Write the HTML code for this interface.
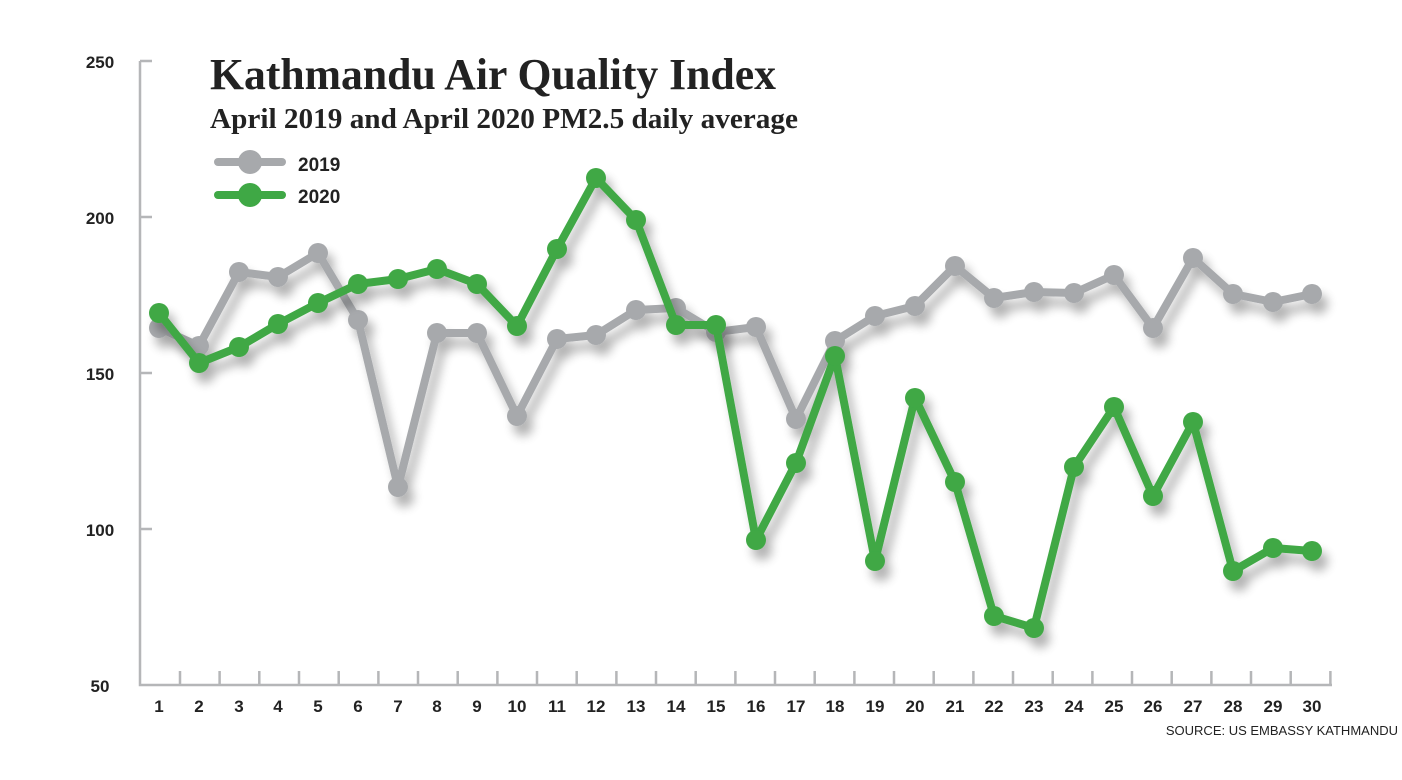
<!DOCTYPE html><html><head><style>body{margin:0;background:#fff}svg{display:block}</style></head><body>
<svg width="1402" height="780" xmlns="http://www.w3.org/2000/svg">
<defs><filter id="sh" x="-10%" y="-10%" width="120%" height="130%"><feGaussianBlur in="SourceAlpha" stdDeviation="5"/><feOffset dx="6" dy="10"/><feComponentTransfer><feFuncA type="linear" slope="0.3"/></feComponentTransfer><feMerge><feMergeNode/><feMergeNode in="SourceGraphic"/></feMerge></filter></defs>
<g stroke="#b5b6b8" stroke-width="2.5" fill="none">
<path d="M140 61V685H1332"/>
<path d="M140 61H152M140 217H152M140 373H152M140 529H152"/>
<path id="tk" d="M180 685v-14M219.6 685v-14M259.3 685v-14M299 685v-14M338.7 685v-14M378.4 685v-14M418 685v-14M457.7 685v-14M497.4 685v-14M537 685v-14M576.7 685v-14M616.4 685v-14M656 685v-14M695.7 685v-14M735.4 685v-14M775 685v-14M814.7 685v-14M854.4 685v-14M894 685v-14M933.7 685v-14M973.4 685v-14M1013 685v-14M1052.7 685v-14M1092.4 685v-14M1132 685v-14M1171.7 685v-14M1211.4 685v-14M1251 685v-14M1290.7 685v-14M1330.4 685v-14"/>
</g>
<g font-family="Liberation Sans Narrow, Liberation Sans, sans-serif" font-weight="bold" font-size="17" fill="#222" text-anchor="middle">
<text x="100" y="68">250</text><text x="100" y="224">200</text><text x="100" y="380">150</text><text x="100" y="536">100</text><text x="100" y="692">50</text>
<text x="159" y="712">1</text><text x="199" y="712">2</text><text x="239" y="712">3</text><text x="278" y="712">4</text><text x="318" y="712">5</text><text x="358" y="712">6</text><text x="398" y="712">7</text><text x="437" y="712">8</text><text x="477" y="712">9</text><text x="517" y="712">10</text><text x="557" y="712">11</text><text x="596" y="712">12</text><text x="636" y="712">13</text><text x="676" y="712">14</text><text x="716" y="712">15</text><text x="756" y="712">16</text><text x="796" y="712">17</text><text x="835" y="712">18</text><text x="875" y="712">19</text><text x="915" y="712">20</text><text x="955" y="712">21</text><text x="994" y="712">22</text><text x="1034" y="712">23</text><text x="1074" y="712">24</text><text x="1114" y="712">25</text><text x="1153" y="712">26</text><text x="1193" y="712">27</text><text x="1233" y="712">28</text><text x="1273" y="712">29</text><text x="1312" y="712">30</text>
</g>
<text x="1398" y="735" text-anchor="end" font-family="Liberation Sans Narrow, Liberation Sans, sans-serif" font-size="13" fill="#222">SOURCE: US EMBASSY KATHMANDU</text>
<text x="210" y="89" font-family="Liberation Serif, serif" font-weight="bold" font-size="44" fill="#222" textLength="566" lengthAdjust="spacingAndGlyphs">Kathmandu Air Quality Index</text>
<text x="210" y="128" font-family="Liberation Serif, serif" font-weight="bold" font-size="28" fill="#222" textLength="588" lengthAdjust="spacingAndGlyphs">April 2019 and April 2020 PM2.5 daily average</text>
<g font-family="Liberation Sans Narrow, Liberation Sans, sans-serif" font-weight="bold" font-size="19" fill="#222"><text x="298" y="171">2019</text><text x="298" y="203">2020</text></g>
<line x1="218" y1="162" x2="282" y2="162" stroke="#a7a9ac" stroke-width="8" stroke-linecap="round"/><circle cx="250" cy="162" r="12" fill="#a7a9ac"/>
<line x1="218" y1="195" x2="282" y2="195" stroke="#3fa845" stroke-width="8" stroke-linecap="round"/><circle cx="250" cy="195" r="12" fill="#3fa845"/>
<g filter="url(#sh)" fill="#a7a9ac">
<polyline fill="none" stroke="#a7a9ac" stroke-width="8" stroke-linejoin="round" points="159,328 199,346 239,272 278,277 318,253 358,320 398,487 437,333 477,333 517,416 557,339 596,335 636,310 676,308 716,332 756,327 796,419 835,341 875,316 915,306 955,266 994,298 1034,292 1074,293 1114,275 1153,328 1193,258 1233,294 1273,302 1312,294"/>
<circle cx="159" cy="328" r="10"/><circle cx="199" cy="346" r="10"/><circle cx="239" cy="272" r="10"/><circle cx="278" cy="277" r="10"/><circle cx="318" cy="253" r="10"/><circle cx="358" cy="320" r="10"/><circle cx="398" cy="487" r="10"/><circle cx="437" cy="333" r="10"/><circle cx="477" cy="333" r="10"/><circle cx="517" cy="416" r="10"/><circle cx="557" cy="339" r="10"/><circle cx="596" cy="335" r="10"/><circle cx="636" cy="310" r="10"/><circle cx="676" cy="308" r="10"/><circle cx="716" cy="332" r="10"/><circle cx="756" cy="327" r="10"/><circle cx="796" cy="419" r="10"/><circle cx="835" cy="341" r="10"/><circle cx="875" cy="316" r="10"/><circle cx="915" cy="306" r="10"/><circle cx="955" cy="266" r="10"/><circle cx="994" cy="298" r="10"/><circle cx="1034" cy="292" r="10"/><circle cx="1074" cy="293" r="10"/><circle cx="1114" cy="275" r="10"/><circle cx="1153" cy="328" r="10"/><circle cx="1193" cy="258" r="10"/><circle cx="1233" cy="294" r="10"/><circle cx="1273" cy="302" r="10"/><circle cx="1312" cy="294" r="10"/>
</g>
<g filter="url(#sh)" fill="#3fa845">
<polyline fill="none" stroke="#3fa845" stroke-width="8" stroke-linejoin="round" points="159,313 199,363 239,347 278,324 318,303 358,284 398,279 437,269 477,284 517,326 557,249 596,178 636,220 676,325 716,325 756,540 796,463 835,356 875,561 915,398 955,482 994,616 1034,628 1074,467 1114,407 1153,496 1193,422 1233,571 1273,548 1312,551"/>
<circle cx="159" cy="313" r="10"/><circle cx="199" cy="363" r="10"/><circle cx="239" cy="347" r="10"/><circle cx="278" cy="324" r="10"/><circle cx="318" cy="303" r="10"/><circle cx="358" cy="284" r="10"/><circle cx="398" cy="279" r="10"/><circle cx="437" cy="269" r="10"/><circle cx="477" cy="284" r="10"/><circle cx="517" cy="326" r="10"/><circle cx="557" cy="249" r="10"/><circle cx="596" cy="178" r="10"/><circle cx="636" cy="220" r="10"/><circle cx="676" cy="325" r="10"/><circle cx="716" cy="325" r="10"/><circle cx="756" cy="540" r="10"/><circle cx="796" cy="463" r="10"/><circle cx="835" cy="356" r="10"/><circle cx="875" cy="561" r="10"/><circle cx="915" cy="398" r="10"/><circle cx="955" cy="482" r="10"/><circle cx="994" cy="616" r="10"/><circle cx="1034" cy="628" r="10"/><circle cx="1074" cy="467" r="10"/><circle cx="1114" cy="407" r="10"/><circle cx="1153" cy="496" r="10"/><circle cx="1193" cy="422" r="10"/><circle cx="1233" cy="571" r="10"/><circle cx="1273" cy="548" r="10"/><circle cx="1312" cy="551" r="10"/>
</g>
</svg>
</body></html>
